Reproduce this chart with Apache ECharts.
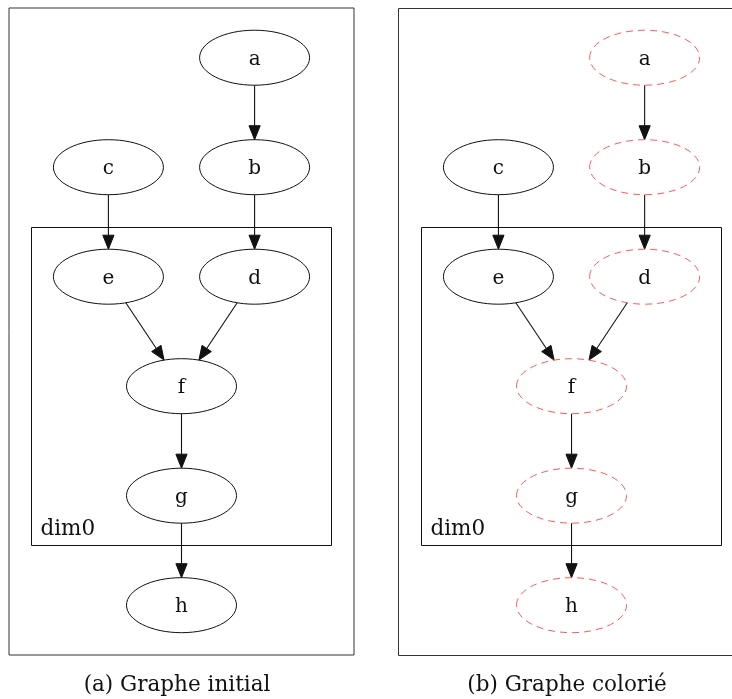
<!DOCTYPE html>
<html>
<head>
<meta charset="utf-8">
<script src="https://cdn.jsdelivr.net/npm/echarts@6/dist/echarts.min.js"></script>
<style>
html,body{margin:0;padding:0;background:#fff;}
#main{width:732px;height:699px;}
</style>
</head>
<body>
<div id="main"></div>
<script>
// ---- data ----
const nodeNames = ['a', 'b', 'c', 'd', 'e', 'f', 'g', 'h'];
const nodeCol   = [2, 2, 0, 2, 0, 1, 1, 1];   // layout column
const nodeRank  = [0, 1, 1, 2, 2, 3, 4, 5];   // layout rank (top to bottom)
const edgeFrom  = ['a', 'c', 'b', 'e', 'd', 'f', 'g'];
const edgeTo    = ['b', 'e', 'd', 'f', 'f', 'g', 'h'];
const clusterName = 'dim0';
const clusterMembers = ['d', 'e', 'f', 'g'];
const coloredNodes = ['a', 'b', 'd', 'f', 'g', 'h'];   // highlighted in panel (b)
const captions = ['(a) Graphe initial', '(b) Graphe colorié'];

// ---- styles ----
const FONT = '"DejaVu Serif", "Liberation Serif", serif';
const RX = 55, RY = 27.5;
const CLUSTER_PAD = 22;
const RED = '#ff5a5a';
const INK = '#111';

function nodeIndex(n) { return nodeNames.indexOf(n); }

function makeNodeSeries(panel) {
  return {
    type: 'custom',
    xAxisIndex: panel, yAxisIndex: panel,
    clip: false,
    silent: true,
    data: nodeNames.map((n, i) => [nodeCol[i], nodeRank[i], i]),
    renderItem: function (params, api) {
      const i = api.value(2);
      const p = api.coord([api.value(0), api.value(1)]);
      const red = panel === 1 && coloredNodes.indexOf(nodeNames[i]) >= 0;
      return {
        type: 'group',
        children: [
          {
            type: 'ellipse',
            shape: { cx: p[0], cy: p[1], rx: RX, ry: RY },
            style: {
              fill: 'none',
              stroke: red ? RED : INK,
              lineWidth: 1,
              lineDash: red ? [7, 5] : null
            }
          },
          {
            type: 'text',
            x: p[0], y: p[1] + 2,
            style: {
              text: nodeNames[i],
              font: '20px ' + FONT,
              fill: INK,
              align: 'center',
              verticalAlign: 'middle'
            }
          }
        ]
      };
    }
  };
}

function makeEdgeSeries(panel) {
  return {
    type: 'custom',
    xAxisIndex: panel, yAxisIndex: panel,
    clip: false,
    silent: true,
    data: edgeFrom.map((f, k) => {
      const a = nodeIndex(f), b = nodeIndex(edgeTo[k]);
      return [nodeCol[a], nodeRank[a], nodeCol[b], nodeRank[b]];
    }),
    renderItem: function (params, api) {
      const p0 = api.coord([api.value(0), api.value(1)]);
      const p1 = api.coord([api.value(2), api.value(3)]);
      const dx = p1[0] - p0[0], dy = p1[1] - p0[1];
      const t = 1 / Math.sqrt((dx / RX) * (dx / RX) + (dy / RY) * (dy / RY));
      const s = [p0[0] + t * dx, p0[1] + t * dy];
      const tip = [p1[0] - t * dx, p1[1] - t * dy];
      const len = Math.sqrt(dx * dx + dy * dy);
      const ux = dx / len, uy = dy / len;
      const AL = 14, AW = 5.6;
      const base = [tip[0] - AL * ux, tip[1] - AL * uy];
      return {
        type: 'group',
        children: [
          {
            type: 'line',
            shape: { x1: s[0], y1: s[1], x2: base[0], y2: base[1] },
            style: { stroke: INK, lineWidth: 1.1 }
          },
          {
            type: 'polygon',
            shape: { points: [tip, [base[0] - AW * uy, base[1] + AW * ux], [base[0] + AW * uy, base[1] - AW * ux]] },
            style: { fill: INK, stroke: INK, lineWidth: 1 }
          }
        ]
      };
    }
  };
}

function makeClusterSeries(panel) {
  const idx = clusterMembers.map(nodeIndex);
  return {
    type: 'custom',
    xAxisIndex: panel, yAxisIndex: panel,
    clip: false,
    silent: true,
    data: [[
      Math.min.apply(null, idx.map(i => nodeCol[i])),
      Math.min.apply(null, idx.map(i => nodeRank[i])),
      Math.max.apply(null, idx.map(i => nodeCol[i])),
      Math.max.apply(null, idx.map(i => nodeRank[i]))
    ]],
    renderItem: function (params, api) {
      const tl = api.coord([api.value(0), api.value(1)]);
      const br = api.coord([api.value(2), api.value(3)]);
      const x = tl[0] - RX - CLUSTER_PAD, y = tl[1] - RY - CLUSTER_PAD;
      const w = br[0] + RX + CLUSTER_PAD - x, h = br[1] + RY + CLUSTER_PAD - y;
      return {
        type: 'group',
        children: [
          {
            type: 'rect',
            shape: { x: Math.round(x) + 0.5, y: Math.round(y) + 0.5, width: Math.round(w), height: Math.round(h) },
            style: { fill: 'none', stroke: INK, lineWidth: 1 }
          },
          {
            type: 'text',
            x: x + 9, y: y + h - 5,
            style: {
              text: clusterName,
              font: '21.5px ' + FONT,
              fill: INK,
              align: 'left',
              verticalAlign: 'bottom'
            }
          }
        ]
      };
    }
  };
}

const chart = echarts.init(document.getElementById('main'), null, { renderer: 'canvas' });
// same scale (px per unit) in both panels; the right panel runs off the page edge
const xAxisLeft  = { type: 'value', min: -1.36, max: 3.36, show: false };
const xAxisRight = { type: 'value', min: -1.36, max: 3.195, show: false };
const yAxisBase = { type: 'value', min: -0.454, max: 5.455, inverse: true, show: false };
chart.setOption({
  animation: false,
  backgroundColor: '#fff',
  grid: [
    { left: 9, top: 8, width: 345, height: 647, show: true, borderColor: '#333', borderWidth: 1, backgroundColor: 'transparent' },
    { left: 399, top: 8, width: 333, height: 647, show: false }
  ],
  xAxis: [Object.assign({ gridIndex: 0 }, xAxisLeft), Object.assign({ gridIndex: 1 }, xAxisRight)],
  yAxis: [Object.assign({ gridIndex: 0 }, yAxisBase), Object.assign({ gridIndex: 1 }, yAxisBase)],
  graphic: [
    { type: 'rect', x: 0, y: 0, shape: { x: 398.5, y: 8.5, width: 345, height: 647 }, style: { fill: 'none', stroke: '#333', lineWidth: 1 }, silent: true },
    { type: 'text', x: 177, y: 685, style: { text: captions[0], font: '21.5px ' + FONT, fill: INK, align: 'center', verticalAlign: 'middle' } },
    { type: 'text', x: 567, y: 685, style: { text: captions[1], font: '21.5px ' + FONT, fill: INK, align: 'center', verticalAlign: 'middle' } }
  ],
  series: [
    makeClusterSeries(0), makeEdgeSeries(0), makeNodeSeries(0),
    makeClusterSeries(1), makeEdgeSeries(1), makeNodeSeries(1)
  ]
});
</script>
</body>
</html>
